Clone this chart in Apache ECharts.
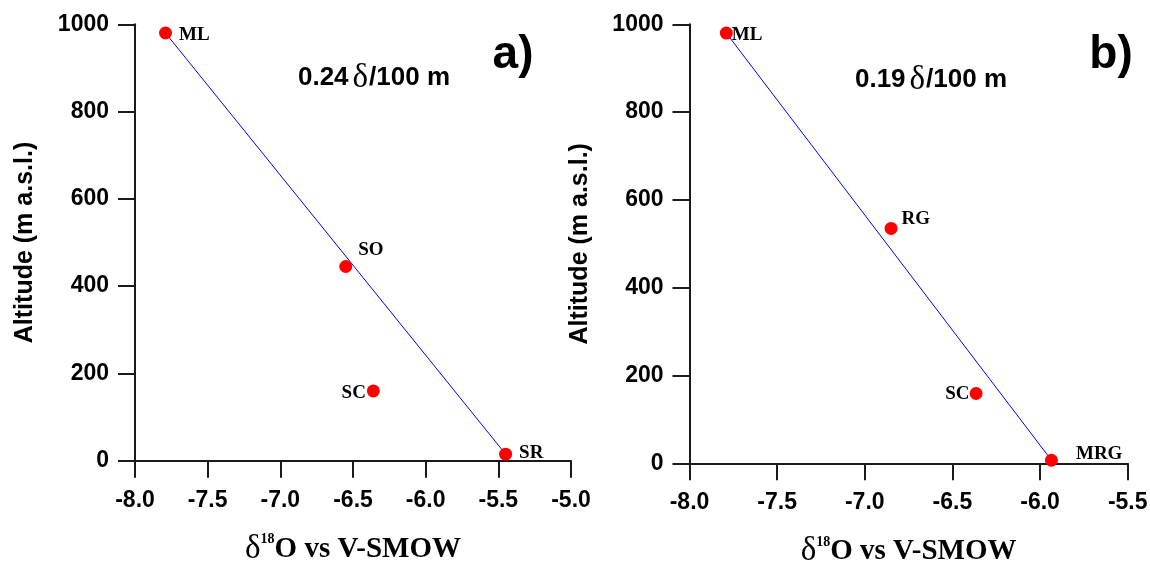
<!DOCTYPE html>
<html><head><meta charset="utf-8">
<script src="https://cdn.jsdelivr.net/npm/echarts@6/dist/echarts.min.js"></script>
<style>html,body{margin:0;padding:0;background:#fff}#c{width:1150px;height:562px}</style>
</head><body><div id="c"></div>
<script>
// ---- data ----
const namesA = ['ML', 'SO', 'SC', 'SR'];
const d18oA  = [-7.79, -6.55, -6.36, -5.45];
const altA   = [980, 445, 160, 15];
const fitA   = ['ML', 'SR'];            // regression line drawn between these stations

const namesB = ['ML', 'RG', 'SC', 'MRG'];
const d18oB  = [-7.79, -6.85, -6.365, -5.935];
const altB   = [980, 535, 159, 7];
const fitB   = ['ML', 'MRG'];

const xRangeA = [-8.0, -5.0];
const xRangeB = [-8.0, -5.5];
const yRange  = [0, 1000];
const xStep = 0.5, yStep = 200;

const gradientA = '0.24', gradientB = '0.19';
const panelA = 'a)', panelB = 'b)';
const yTitle = 'Altitude (m a.s.l.)';

// ---- styling ----
const AX = '#1a1a1a';
const sans = 'Liberation Sans';
const serif = 'Liberation Serif';

function xAxisFor(idx, range) {
  return {
    gridIndex: idx, type: 'value', min: range[0], max: range[1], interval: xStep,
    axisLine: {show: true, onZero: false, lineStyle: {color: AX, width: 2}},
    axisTick: {show: true, inside: false, length: 17, lineStyle: {color: AX, width: 2}},
    splitLine: {show: false},
    axisLabel: {color: '#000', fontFamily: sans, fontWeight: 'bold', fontSize: 23, margin: 28,
      formatter: v => v.toFixed(1)},
    name: '{d|δ}{s|18}{t|O vs V-SMOW}', nameLocation: 'middle', nameGap: 72,
    nameTextStyle: {rich: {
      d: {fontFamily: serif, fontSize: 33, color: '#000'},
      s: {fontFamily: serif, fontWeight: 'bold', fontSize: 14, color: '#000', verticalAlign: 'top'},
      t: {fontFamily: serif, fontWeight: 'bold', fontSize: 29, color: '#000'}
    }}
  };
}
function yAxisFor(idx) {
  return {
    gridIndex: idx, type: 'value', min: yRange[0], max: yRange[1], interval: yStep,
    axisLine: {show: true, onZero: false, lineStyle: {color: AX, width: 2}},
    axisTick: {show: true, inside: false, length: 17, lineStyle: {color: AX, width: 2}},
    splitLine: {show: false},
    axisLabel: {color: '#000', fontFamily: sans, fontWeight: 'bold', fontSize: 23, margin: 26,
      formatter: v => String(v)},
    name: yTitle, nameLocation: 'middle', nameGap: 97, nameRotate: 90,
    nameTextStyle: {color: '#000', fontFamily: sans, fontWeight: 'bold', fontSize: 25}
  };
}

function points(names, xs, ys, place) {
  return names.map((n, i) => ({
    name: n, value: [xs[i], ys[i]],
    label: {show: true, formatter: '{b}', position: place[n].pos, distance: place[n].dist,
      offset: place[n].off, color: '#000', fontFamily: serif, fontWeight: 'bold', fontSize: 19}
  }));
}
function fitLine(names, xs, ys, ends) {
  return ends.map(e => { const i = names.indexOf(e); return [xs[i], ys[i]]; });
}

const placeA = {
  ML: {pos: 'right', dist: 7, off: [0, 2]},
  SO: {pos: 'right', dist: 6, off: [0, -16]},
  SC: {pos: 'left', dist: 1, off: [0, 2]},
  SR: {pos: 'right', dist: 7, off: [0, -1]}
};
const placeB = {
  ML: {pos: 'right', dist: -1, off: [0, 2]},
  RG: {pos: 'right', dist: 4, off: [0, -9]},
  SC: {pos: 'left', dist: 0, off: [0, 1]},
  MRG: {pos: 'right', dist: 18, off: [0, -6]}
};

const ann = (g) => ({
  text: '{a|' + g + '}{d|δ}{a|/100 m}',
  rich: {
    a: {fontFamily: sans, fontWeight: 'bold', fontSize: 26, fill: '#000'},
    d: {fontFamily: serif, fontSize: 33, fill: '#000', padding: [0, 1, 0, 4]}
  },
  align: 'center', verticalAlign: 'middle'
});

const option = {
  backgroundColor: '#fff',
  animation: false,
  grid: [
    {left: 135, top: 24.3, width: 436, height: 436.4, containLabel: false, outerBoundsMode: 'none'},
    {left: 689.5, top: 24.3, width: 438.2, height: 439, containLabel: false, outerBoundsMode: 'none'}
  ],
  xAxis: [xAxisFor(0, xRangeA), xAxisFor(1, xRangeB)],
  yAxis: [yAxisFor(0), yAxisFor(1)],
  series: [
    {type: 'line', xAxisIndex: 0, yAxisIndex: 0, data: fitLine(namesA, d18oA, altA, fitA),
     symbol: 'none', lineStyle: {color: '#0000ff', width: 1}, z: 2},
    {type: 'scatter', xAxisIndex: 0, yAxisIndex: 0, data: points(namesA, d18oA, altA, placeA),
     symbolSize: 13, itemStyle: {color: '#ff0000', opacity: 1}, z: 3},
    {type: 'line', xAxisIndex: 1, yAxisIndex: 1, data: fitLine(namesB, d18oB, altB, fitB),
     symbol: 'none', lineStyle: {color: '#0000ff', width: 1}, z: 2},
    {type: 'scatter', xAxisIndex: 1, yAxisIndex: 1, data: points(namesB, d18oB, altB, placeB),
     symbolSize: 13, itemStyle: {color: '#ff0000', opacity: 1}, z: 3}
  ],
  graphic: [
    {type: 'text', x: 513, y: 55, style: {text: panelA, font: 'bold 46px "Liberation Sans"', fill: '#000', align: 'center', verticalAlign: 'middle'}},
    {type: 'text', x: 1111, y: 55, style: {text: panelB, font: 'bold 46px "Liberation Sans"', fill: '#000', align: 'center', verticalAlign: 'middle'}},
    {type: 'text', x: 374, y: 78, style: ann(gradientA)},
    {type: 'text', x: 931, y: 80, style: ann(gradientB)}
  ]
};
echarts.init(document.getElementById('c'), null, {renderer: 'canvas'}).setOption(option);
</script>
</body></html>
